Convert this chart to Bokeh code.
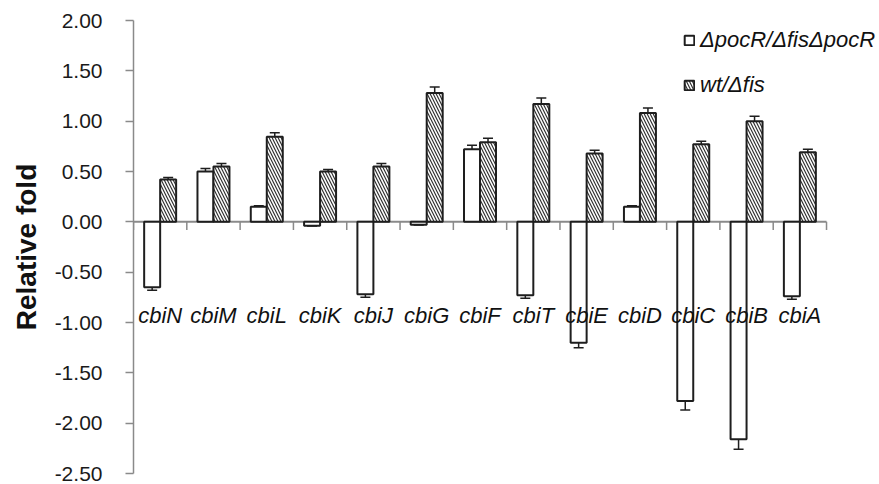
from bokeh.plotting import figure
from bokeh.models import (ColumnDataSource, Whisker, TeeHead, FixedTicker, Legend,
                          LegendItem, NumeralTickFormatter)
from bokeh.core.properties import value
from bokeh.embed import file_html
from bokeh.resources import INLINE

CATEGORIES = ["cbiN", "cbiM", "cbiL", "cbiK", "cbiJ", "cbiG", "cbiF",
              "cbiT", "cbiE", "cbiD", "cbiC", "cbiB", "cbiA"]
POCR = [-0.65, 0.50, 0.15, -0.04, -0.72, -0.03, 0.72, -0.73, -1.20, 0.15, -1.78, -2.16, -0.74]
POCR_ERR = [0.03, 0.03, 0.01, 0.0, 0.03, 0.0, 0.04, 0.03, 0.05, 0.01, 0.09, 0.10, 0.03]
WT = [0.42, 0.55, 0.845, 0.50, 0.55, 1.28, 0.79, 1.17, 0.68, 1.08, 0.77, 1.00, 0.69]
WT_ERR = [0.02, 0.03, 0.04, 0.02, 0.03, 0.06, 0.04, 0.06, 0.03, 0.05, 0.03, 0.05, 0.03]
Y_TICKS = [-2.5, -2.0, -1.5, -1.0, -0.5, 0.0, 0.5, 1.0, 1.5, 2.0]
LEGEND_LABELS = ["\u0394pocR/\u0394fis\u0394pocR", "wt/\u0394fis"]

BAR_W = 0.3
LABEL_Y = -0.93
TICK_LEN = 0.08
n = len(CATEGORIES)
centers = [i + 0.5 for i in range(n)]
bounds = list(range(n + 1))
x_pocr = [c - BAR_W / 2 for c in centers]
x_wt = [c + BAR_W / 2 for c in centers]

src_p = ColumnDataSource(dict(x=x_pocr, top=POCR,
                              upper=[v + e for v, e in zip(POCR, POCR_ERR)],
                              lower=[v - e for v, e in zip(POCR, POCR_ERR)]))
src_w = ColumnDataSource(dict(x=x_wt, top=WT,
                              upper=[v + e for v, e in zip(WT, WT_ERR)],
                              lower=[v - e for v, e in zip(WT, WT_ERR)]))

FONT = "Liberation Sans"
DARK = "#1e1e1e"
AXIS_GREY = "#8a8a8a"

p = figure(width=879, height=484, x_range=(0, n * 1.075), y_range=(-2.5, 2.0),
           output_backend="svg", toolbar_location=None,
           min_border_left=133, min_border_right=1, min_border_top=20, min_border_bottom=11)
p.outline_line_color = None
p.grid.visible = False
p.background_fill_color = "white"
p.border_fill_color = "white"
p.xaxis.visible = False

# y axis
p.yaxis.ticker = FixedTicker(ticks=Y_TICKS)
p.yaxis.formatter = NumeralTickFormatter(format="0.00")
p.yaxis.major_label_text_font = FONT
p.yaxis.major_label_text_font_size = "21px"
p.yaxis.major_label_text_color = "#1a1a1a"
p.yaxis.major_tick_out = 8
p.yaxis.major_tick_in = 0
p.yaxis.minor_tick_line_color = None
p.yaxis.major_label_standoff = 23
p.yaxis.axis_line_color = AXIS_GREY
p.yaxis.axis_line_width = 1.5
p.yaxis.major_tick_line_color = AXIS_GREY
p.yaxis.major_tick_line_width = 1.5
p.yaxis.axis_label = "Relative fold"
p.yaxis.axis_label_text_font = FONT
p.yaxis.axis_label_text_font_style = "bold"
p.yaxis.axis_label_text_font_size = "28px"
p.yaxis.axis_label_text_color = "#111111"
p.yaxis.axis_label_standoff = 10

# category axis line at zero with boundary ticks
p.segment(x0=[bounds[0]], y0=[0], x1=[bounds[-1]], y1=[0],
          line_color=AXIS_GREY, line_width=2)
p.segment(x0=bounds, y0=[0] * len(bounds), x1=bounds, y1=[-TICK_LEN] * len(bounds),
          line_color=AXIS_GREY, line_width=1.5)

r1 = p.vbar(x="x", top="top", bottom=0, width=BAR_W, source=src_p,
            fill_color="white", line_color=DARK, line_width=2)
r2 = p.vbar(x="x", top="top", bottom=0, width=BAR_W, source=src_w,
            fill_color="white", line_color=DARK, line_width=2,
            hatch_pattern="left_diagonal_line", hatch_color="#333333",
            hatch_scale=6, hatch_weight=1.2)

for s in (src_p, src_w):
    w = Whisker(base="x", upper="upper", lower="lower", source=s,
                line_color=DARK, line_width=1.5,
                upper_head=TeeHead(size=10, line_color=DARK, line_width=1.5),
                lower_head=TeeHead(size=10, line_color=DARK, line_width=1.5))
    p.add_layout(w)

p.text(x=centers, y=[LABEL_Y] * n, text=CATEGORIES, text_align="center",
       text_baseline="middle", text_font=value(FONT), text_font_size="22px",
       text_font_style="italic", text_color="#111111")

legend = Legend(items=[LegendItem(label=LEGEND_LABELS[0], renderers=[r1]),
                       LegendItem(label=LEGEND_LABELS[1], renderers=[r2])],
                location=(550, 375), border_line_color=None, background_fill_alpha=0,
                glyph_width=12, glyph_height=12, label_text_font=FONT,
                label_text_font_size="22px", label_text_font_style="italic",
                label_text_color="#111111", label_height=21,
                padding=0, margin=0, spacing=19, label_standoff=5)
p.add_layout(legend)

open("out.html", "w").write(file_html(p, INLINE))
